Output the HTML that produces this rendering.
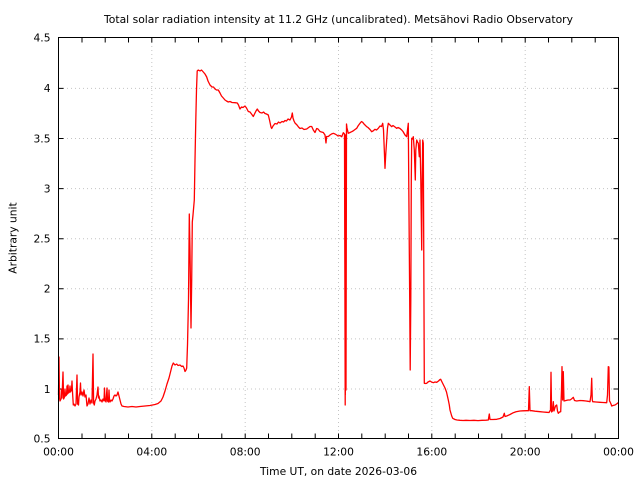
<!DOCTYPE html>
<html>
<head>
<meta charset="utf-8">
<style>
html,body{margin:0;padding:0;background:#fff;}
svg{display:block;}
text{font-family:"DejaVu Sans","Liberation Sans",sans-serif;font-size:10.7px;fill:#000;}
</style>
</head>
<body>
<svg width="640" height="480" viewBox="0 0 640 480" xmlns="http://www.w3.org/2000/svg">
<rect x="0" y="0" width="640" height="480" fill="#fff"/>
<!-- grid -->
<g stroke="#c4c4c4" stroke-width="1" stroke-dasharray="1 3" fill="none">
<line x1="151.8" y1="38" x2="151.8" y2="438.5"/>
<line x1="245.2" y1="38" x2="245.2" y2="438.5"/>
<line x1="338.5" y1="38" x2="338.5" y2="438.5"/>
<line x1="431.8" y1="38" x2="431.8" y2="438.5"/>
<line x1="525.2" y1="38" x2="525.2" y2="438.5"/>
<line x1="59" y1="88.4" x2="618" y2="88.4"/>
<line x1="59" y1="138.5" x2="618" y2="138.5"/>
<line x1="59" y1="188.6" x2="618" y2="188.6"/>
<line x1="59" y1="238.7" x2="618" y2="238.7"/>
<line x1="59" y1="288.8" x2="618" y2="288.8"/>
<line x1="59" y1="338.9" x2="618" y2="338.9"/>
<line x1="59" y1="389.0" x2="618" y2="389.0"/>
</g>
<!-- ticks -->
<g stroke="#000" stroke-width="1">
<path d="M82,438.5v-5M105.2,438.5v-5M128.5,438.5v-5M151.8,438.5v-5M175.2,438.5v-5M198.5,438.5v-5M221.8,438.5v-5M245.2,438.5v-5M268.5,438.5v-5M291.8,438.5v-5M315.2,438.5v-5M338.5,438.5v-5M361.8,438.5v-5M385.2,438.5v-5M408.5,438.5v-5M431.8,438.5v-5M455.2,438.5v-5M478.5,438.5v-5M501.8,438.5v-5M525.2,438.5v-5M548.5,438.5v-5M571.8,438.5v-5M595.2,438.5v-5"/>
<path d="M82,37.5v5M105.2,37.5v5M128.5,37.5v5M151.8,37.5v5M175.2,37.5v5M198.5,37.5v5M221.8,37.5v5M245.2,37.5v5M268.5,37.5v5M291.8,37.5v5M315.2,37.5v5M338.5,37.5v5M361.8,37.5v5M385.2,37.5v5M408.5,37.5v5M431.8,37.5v5M455.2,37.5v5M478.5,37.5v5M501.8,37.5v5M525.2,37.5v5M548.5,37.5v5M571.8,37.5v5M595.2,37.5v5"/>
<path d="M58.5,88.4h5M58.5,138.5h5M58.5,188.6h5M58.5,238.7h5M58.5,288.8h5M58.5,338.9h5M58.5,389h5"/>
<path d="M618.5,88.4h-5M618.5,138.5h-5M618.5,188.6h-5M618.5,238.7h-5M618.5,288.8h-5M618.5,338.9h-5M618.5,389h-5"/>
</g>
<!-- data -->
<polyline fill="none" stroke="#ff0000" stroke-width="1.3" stroke-linejoin="round" points="
58.5,395 59,357 59.5,398 60,401 61,399 61.5,389 62,398 63,372 63.6,399 64.5,397 65,389 65.5,396 66.5,395 67,386 67.5,394 68,385 68.5,393 69.5,392 70,386 70.5,392 71.5,390 72,381 72.5,392 73.3,405 74,404 75,406 76,404 77,375 77.6,404 78.5,405 79,397 80,392 80.5,383 81,395 82,392 83,396 84,390 85,397 86,395 87,406 88,404 89,398 90,404 91,400 92,403 93,354 93.6,403 94.3,405 95,401 96,399 97,395 98,387 98.5,398 99,396 100,401 101,400 102,402 103,399 104,401 104.5,388 105,400 106,402 107,388 107.5,401 108.5,402 109,390 109.5,400 110,402 111,400 112,401 113,399 114,396 115,395 116,396 117,395 118,392 119,396 120,400 121,404 122,406 124,406.5 128,407 132,406.5 136,407 140,406.5 145,406 150,405.5 155,404.5 158,403.5 161,401 163,397 165,391 167,384 169,378 170.5,372 172,366 173.3,363 175,365 176.7,364 178,365.5 180,365 181.7,366.5 183,366 184,368 185,371.5 186,370 186.7,368 187.5,345 188.5,300 189.3,214 190,250 191,328 191.7,280 192.3,222 193,215 194.3,200 195,160 195.8,120 196.5,90 197.2,71 198.3,70 200,71 201.5,70 203.3,72 205,74 206.7,77 208,81 210,85 212,87 213.5,87 215,89 216.5,90 218.3,90 220,93 221.5,96 223.3,98 225,100 226.5,101 228.3,102 230,101.5 232,102.5 235,102.7 237.3,103 238.5,105 240,109 241.5,107 243,107.5 245,106 246.5,108 248.3,111.5 250,112 251.5,114 253.3,116.5 254.5,114 256,111 257.3,109 258.5,111 260,112.5 262,113 263.5,112 265,113.5 266.5,114 268.3,115 269.5,120 271,127 271.7,128.5 273,126 275,123.5 277,124 278.5,122 280,123 282,121.5 283.5,122 285,120.5 286.5,121 288,119 290,120 291.5,117 292.3,113 293,118 294,121 295,123 297,125 298.5,127 300,128.5 302,128 304,129.5 306.7,129 308,128 310,126.5 311.7,126.5 313.3,130 315,132.5 316.7,128.5 318,129 320,131.5 321.5,132 323.3,132.5 325,135 326,143 326.6,136.5 328.3,136.5 330,135 331.5,134 333.3,133.3 335,134 336.7,135 338,136 340,135.5 341.7,136.7 343.3,132.7 344.5,134 345.2,405 345.7,135 346,390 346.5,124 347,128 348.3,133.3 350,132.5 351.7,131.7 353,131 355,129.5 356.7,128.3 358,126 360,123.3 361.5,121.5 362.7,122.3 364,124 366.7,126.7 368,127.5 370,129.5 371.7,131.7 373,131 375,129.3 376.5,130 378.3,128.3 380,126 381.5,126.5 382.7,123.3 383.5,130 384.3,150 385,168.3 385.7,155 386.7,140 387.5,128 388.3,123.3 390,125 391.7,126.7 393,125.5 395,127 396.7,128.3 398,127.5 400,128.5 401.7,130 403,131.5 405,135 406.7,136.7 407.5,130 408.3,123.3 408.9,200 409.7,300 410.2,370 410.8,300 411.3,180 411.7,138.3 412.5,139 413.3,136.7 414.3,150 415.3,180 415.8,150 416.7,140 417.5,142 418.3,143.3 419.3,156.7 420,140 420.8,180 421.7,250 422.2,180 422.7,140 423.3,143.3 423.8,260 424.3,383.3 425.5,383.5 426.7,383.3 428,382 430,381 431.5,382 433.3,382.7 435,382 436.7,382.3 438.5,381 440,379.5 440.7,379.3 442,382 443.5,385 445,388 446.5,392 448.3,400 449.3,405 450,410 451.7,416 452.7,418.3 455,419.5 457,420 460,420.3 463,420.5 466,420.3 470,420.5 474,420.3 478,420.6 482,420.3 486,420.2 488.3,420 489.3,414 490,419.5 493,419.5 496.7,419.3 500,418.5 503,417 504.3,413.3 505,416.5 506.7,416 510,414.5 513.3,412.7 516,411.8 520,411 523,410.8 526.7,410.7 528.5,410.7 529.3,386.7 530,410.7 531.7,410.7 535,411.2 540,411.7 543,412 546.7,412.3 549,412.5 550.5,410 551,372.3 551.6,412 552.5,411 553.3,401.7 554,411 555.5,406 556.7,405 557.5,411 558.3,413.3 559.5,412 560.7,411.7 561.5,390 562,366.7 562.6,400 563.3,371.7 564,401 566,400.5 568,400 570,400 571.5,399 573.3,397.3 574.5,400.5 576.7,401 580,400.5 583.3,400.7 586,401 588,401.3 590,401.7 591,395 591.7,378.3 592.3,400 592.7,401.7 596,402 600,402.3 603,402.5 606.7,402.7 607.5,395 608.3,366.7 608.9,367 609.5,401 610,401.7 611,404 611.7,406 613,405.5 615,405 616.5,404 618.3,402.7"/>
<polyline fill="none" stroke="#ff0000" stroke-width="1" points="344.6,134 345.4,395 346,140"/>
<!-- frame -->
<rect x="58.5" y="37.5" width="560" height="401" fill="none" stroke="#000" stroke-width="1"/>
<!-- y labels -->
<g text-anchor="end">
<text x="50.5" y="41.5">4.5</text>
<text x="50.5" y="92.2">4</text>
<text x="50.5" y="142.3">3.5</text>
<text x="50.5" y="192.4">3</text>
<text x="50.5" y="242.5">2.5</text>
<text x="50.5" y="292.6">2</text>
<text x="50.5" y="342.7">1.5</text>
<text x="50.5" y="392.8">1</text>
<text x="50.5" y="442.5">0.5</text>
</g>
<!-- x labels -->
<g text-anchor="middle">
<text x="58.5" y="455.5">00:00</text>
<text x="151.8" y="455.5">04:00</text>
<text x="245.2" y="455.5">08:00</text>
<text x="338.5" y="455.5">12:00</text>
<text x="431.8" y="455.5">16:00</text>
<text x="525.2" y="455.5">20:00</text>
<text x="618.5" y="455.5">00:00</text>
<text x="338.5" y="475">Time UT, on date 2026-03-06</text>
<text x="338.5" y="23" textLength="469" lengthAdjust="spacingAndGlyphs">Total solar radiation intensity at 11.2 GHz (uncalibrated). Metsähovi Radio Observatory</text>
</g>
<text x="0" y="0" text-anchor="middle" transform="translate(16.5,238) rotate(-90)">Arbitrary unit</text>
</svg>
</body>
</html>
